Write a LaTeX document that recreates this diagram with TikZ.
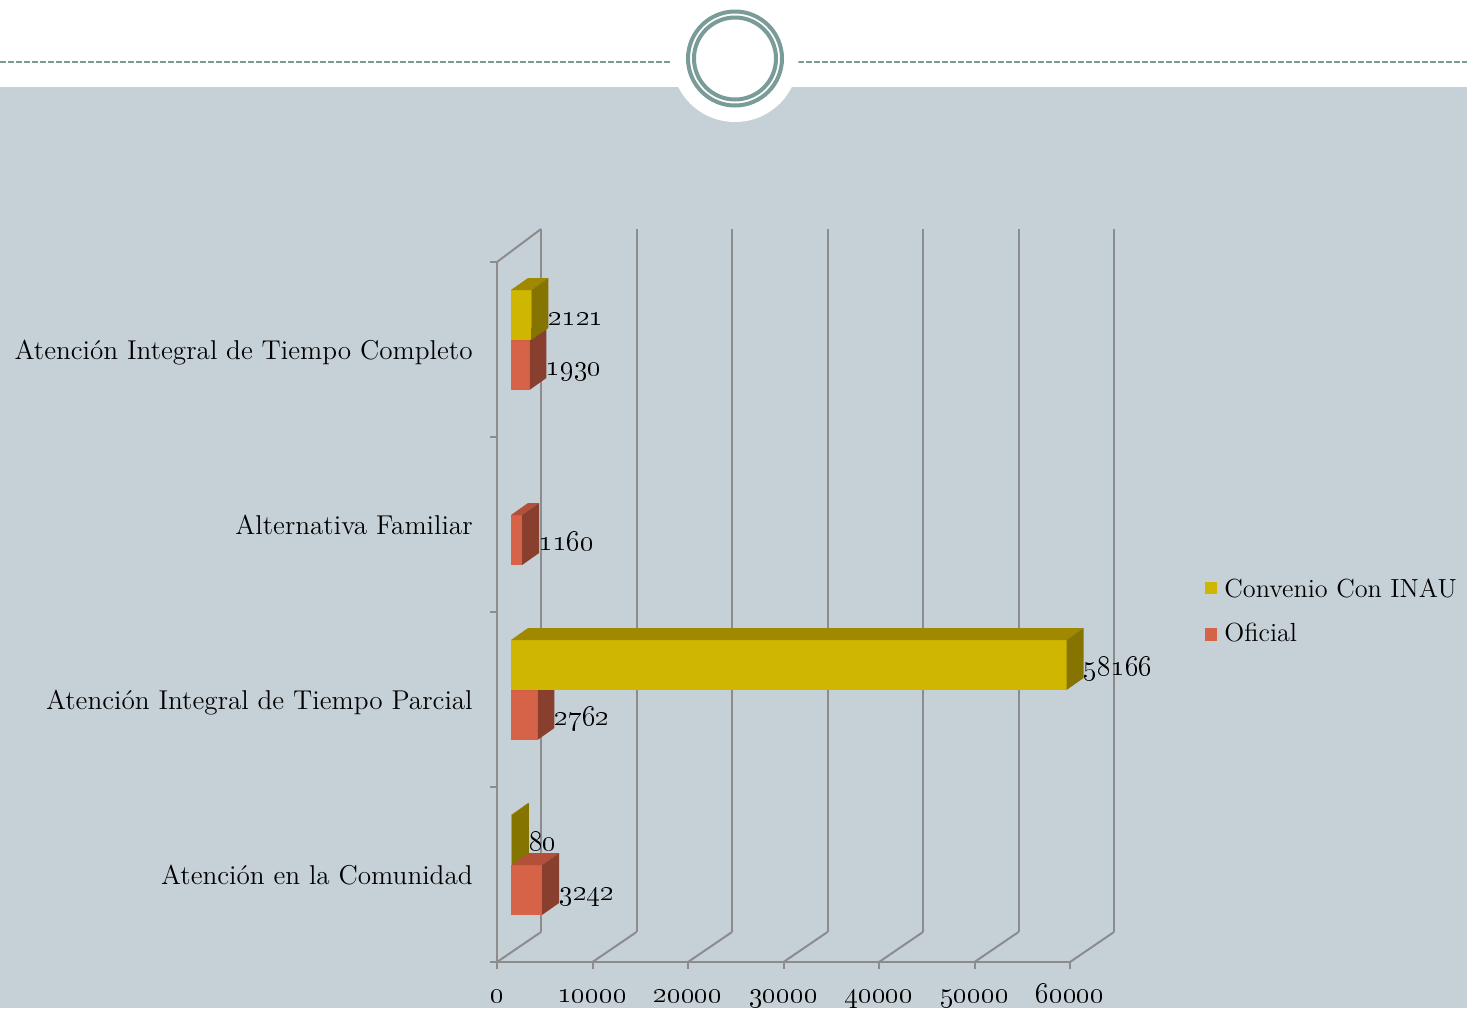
\documentclass[tikz,border=0pt]{standalone}
\usepackage{tikz}
\usetikzlibrary{positioning}
\definecolor{slidebg}{RGB}{198,209,215}
\definecolor{ringteal}{RGB}{122,156,152}
\definecolor{gridgray}{RGB}{140,140,140}
\definecolor{convF}{RGB}{207,182,0}
\definecolor{convT}{RGB}{160,137,0}
\definecolor{convS}{RGB}{133,116,0}
\definecolor{oficF}{RGB}{214,98,72}
\definecolor{oficT}{RGB}{178,80,58}
\definecolor{oficS}{RGB}{137,63,46}

\begin{document}
\begin{tikzpicture}[x=0.5pt, y=-0.5pt, font=\fontsize{13.6}{16}\selectfont,
  catlabel/.style={anchor=base east, inner sep=0pt},
  vallabel/.style={anchor=base west, inner sep=0pt, font=\fontsize{14.4}{16}\selectfont},
  axlabel/.style={anchor=base, inner sep=0pt, font=\fontsize{15}{16}\selectfont},
  leglabel/.style={anchor=west, inner sep=0pt, font=\fontsize{13.1}{16}\selectfont},
  gridline/.style={gridgray, line width=1pt},
  ring/.style={ringteal, line width=2pt}]
  \useasboundingbox (0,0) rectangle (1467,1008);
  % Slide header and background
  \fill[white] (0,0) rectangle (1467,87);
  \fill[slidebg] (0,87) rectangle (1467,1008);
  \draw[ringteal, line width=0.85pt, dash pattern=on 3pt off 1pt] (0,62) -- (670,62);
  \draw[ringteal, line width=0.85pt, dash pattern=on 3pt off 1pt] (798,62) -- (1467,62);
  \fill[white] (735,58.5) circle (31.75pt);
  \draw[ring] (735,58.5) circle (23.5pt);
  \draw[ring] (735,58.5) circle (20.5pt);
  % Walls and floor
  \foreach \i in {0,...,6} {
    \draw[gridline] (541+95.5*\i,229) -- (541+95.5*\i,932);
    \draw[gridline] (497+95.5*\i,962) -- (541+95.5*\i,932);
    \draw[gridline] (497+95.5*\i,962) -- (497+95.5*\i,969);
  }
  \draw[gridline] (490,962) -- (1070,962);
  \draw[gridline] (497,262) -- (497,962);
  \draw[gridline] (497,262) -- (541,229);
  \foreach \j in {0,...,3}
    \draw[gridline] (490,262+175*\j) -- (497,262+175*\j);
  % Axis labels
  \foreach \i/\t in {0/0,1/10000,2/20000,3/30000,4/40000,5/50000,6/60000}
    \node[axlabel] (tick\i) at (497+95.5*\i,1002) {\oldstylenums{\t}};
  % Categories
  \node[catlabel] (catcompleto) at (473,359) {Atención Integral de Tiempo Completo};
  \node[catlabel] (catfamiliar) at (473,534) {Alternativa Familiar};
  \node[catlabel] (catparcial) at (473,709) {Atención Integral de Tiempo Parcial};
  \node[catlabel] (catcomunidad) at (473,884) {Atención en la Comunidad};
  % Bars: top y / value / length / series
  \foreach \y/\v/\w/\ser in {340/1930/18.4/ofic, 290/2121/20.3/conv, 515/1160/11.1/ofic,
                             690/2762/26.4/ofic, 640/58166/555.5/conv, 865/3242/31/ofic, 815/80/0.8/conv} {
    \fill[fill=\ser F] (511,\y) rectangle ({511+\w},{\y+50});
    \fill[fill=\ser T] (511,\y) -- (528,{\y-12}) -- ({528+\w},{\y-12}) -- ({511+\w},\y) -- cycle;
    \fill[fill=\ser S] ({511+\w},\y) -- ({528+\w},{\y-12}) -- ({528+\w},{\y+38}) -- ({511+\w},{\y+50}) -- cycle;
    \node[vallabel] (val\v) at ({528+\w},{\y+35}) {\oldstylenums{\v}};
  }
  % Legend
  \fill[convF] (1205,582) rectangle (1217,594);
  \node[leglabel] (legconv) at (1224,588) {Convenio Con INAU};
  \fill[oficF] (1205,628) rectangle (1217,641);
  \node[leglabel] (legofic) at (1224,633) {Oficial};
\end{tikzpicture}
\end{document}
